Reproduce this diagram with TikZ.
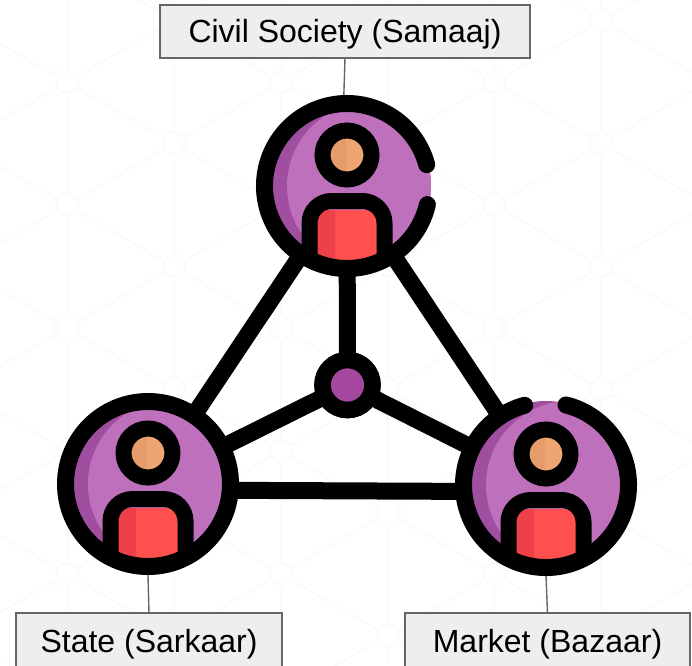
\documentclass[tikz,border=0pt]{standalone}
\usepackage{fontspec}
\setmainfont{Liberation Sans}
\definecolor{lightpurple}{HTML}{BF70BC}
\definecolor{darkpurple}{HTML}{A04FA0}
\definecolor{hubpurple}{HTML}{A5479F}
\definecolor{redmain}{HTML}{FF5050}
\definecolor{reddark}{HTML}{EE4048}
\definecolor{skin}{HTML}{EFA571}
\definecolor{skindark}{HTML}{E79C6C}
\definecolor{boxfill}{HTML}{EEEEEE}
\definecolor{boxline}{HTML}{666666}
\definecolor{lattice}{HTML}{FBFBFB}
\tikzset{
  labelbox/.style={draw=boxline,fill=boxfill,line width=1.5pt,rectangle,inner sep=0pt,outer sep=0pt,
    text=black,font=\fontsize{32}{38}\selectfont,text height=26pt,text depth=3.5pt},
  leader/.style={draw=boxline,line width=1.4pt},
  personspot/.style={circle,minimum size=166pt,inner sep=0pt,outer sep=8pt},
  hubnode/.style={circle,draw=black,fill=hubpurple,line width=16.5pt,minimum size=50pt,inner sep=0pt,outer sep=8pt},
  tie/.style={draw=black,line width=17pt,shorten >=-6pt,shorten <=-6pt},
  latticeline/.style={draw=lattice,line width=2pt},
  pics/person/.style n args={2}{code={
    \fill[darkpurple] (0,0) circle[radius=84];
    \begin{scope}
      \clip (0,0) circle[radius=84];
      \fill[lightpurple] (24,0) circle[radius=84];
    \end{scope}
    \begin{scope}
      \clip (0,0) circle[radius=76];
      \fill[redmain,rounded corners=12pt] (-30,24) rectangle (30,90);
      \begin{scope}
        \clip (-30,24) rectangle (-12,90);
        \fill[reddark,rounded corners=12pt] (-30,24) rectangle (30,90);
      \end{scope}
    \end{scope}
    \draw[black,line width=16pt,rounded corners=22pt] (-37.5,74) -- (-37.5,15) -- (37.5,15) -- (37.5,74);
    \fill[skin] (0,-31) circle[radius=17];
    \begin{scope}
      \clip (-17,-48) rectangle (-1,-14);
      \fill[skindark] (0,-31) circle[radius=17];
    \end{scope}
    \draw[black,line width=16pt] (0,-31) circle[radius=24.5];
    \draw[black,line width=17pt,line cap=round] (0,0) ++(#1:82.5) arc[start angle=#1,end angle=#2,radius=82.5];
  }}
}
\begin{document}
\begin{tikzpicture}[x=1pt,y=-1pt]
\useasboundingbox (0,0) rectangle (692,665);
\fill[white] (0,0) rectangle (692,665);
% faint lattice
\begin{scope}
  \clip (0,0) rectangle (692,665);
  \foreach \cx in {67,174,281,388,494,601} \draw[latticeline] (\cx,0) -- (\cx,665);
  \foreach \k in {-4,...,7} {
    \draw[latticeline] (0,43.5+123*\k) -- (692,43.5+123*\k+398);
    \draw[latticeline] (0,120.5+123*\k) -- (692,120.5+123*\k-398);
  }
  \foreach \cx in {67,281,494} \foreach \k in {-1,...,5}
    \draw[latticeline,fill=white] (\cx,82+123*\k) circle[radius=11];
  \foreach \cx in {174,388,601} \foreach \k in {0,...,5}
    \draw[latticeline,fill=white] (\cx,20+123*\k) circle[radius=11];
\end{scope}
% anchors
\node[personspot] (civil) at (347,186) {};
\node[personspot] (state) at (148,484) {};
\node[personspot] (market) at (546,485) {};
% label boxes
\node[labelbox,minimum width=370pt,minimum height=53pt] (civilbox) at (345,31.5) {Civil Society (Samaaj)};
\node[labelbox,minimum width=266pt,minimum height=56pt] (statebox) at (149,641) {State (Sarkaar)};
\node[labelbox,minimum width=285pt,minimum height=56pt] (marketbox) at (547.5,641) {Market (Bazaar)};
% leaders
\draw[leader] (civilbox.south) -- (civil.92);
\draw[leader] (statebox.north) -- (state.south);
\draw[leader] (marketbox.north) -- (market.south);
% ties
\draw[tie] (civil) -- (state);
\draw[tie] (civil) -- (market);
\draw[tie] (state.-4.4) -- (market.184);
\node[hubnode] (hub) at (347.5,385) {};
\draw[tie] (hub) -- (civil);
\draw[tie] (hub) -- (state);
\draw[tie] (hub) -- (market);
\node[hubnode] at (hub) {};
% people
\pic at (civil) {person={-15}{-347}};
\pic at (state) {person={0}{-360}};
\pic at (market) {person={-105}{-436}};
\end{tikzpicture}
\end{document}
